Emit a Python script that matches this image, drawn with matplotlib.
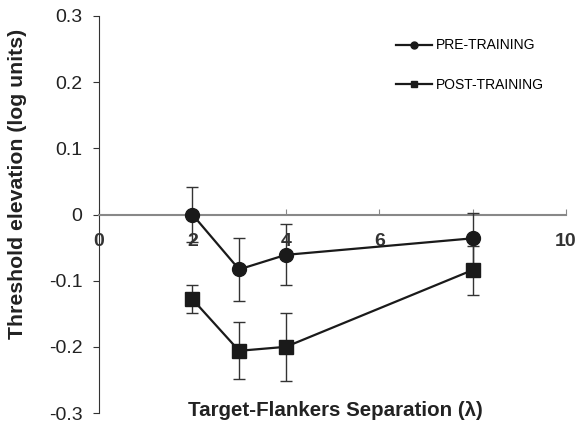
import matplotlib
matplotlib.use("Agg")
import matplotlib.pyplot as plt
from matplotlib.lines import Line2D

plt.rcParams['font.family'] = ['Liberation Sans', 'DejaVu Sans']

separation = [2, 3, 4, 8]
pre_values = [0.0, -0.083, -0.061, -0.036]
pre_err = [0.042, 0.048, 0.046, 0.039]
post_values = [-0.128, -0.206, -0.200, -0.084]
post_err = [0.021, 0.043, 0.051, 0.037]
xticks = [0, 2, 4, 6, 8, 10]
yticks = [-0.3, -0.2, -0.1, 0, 0.1, 0.2, 0.3]
ytick_labels = ['-0.3', '-0.2', '-0.1', '0', '0.1', '0.2', '0.3']

fig = plt.figure(figsize=(5.78, 4.26), dpi=100)
ax = fig.add_axes([99/578, 1 - 413/426, (566-99)/578, (413-16)/426])

ax.errorbar(separation, pre_values, yerr=pre_err, color='#1a1a1a', marker='o',
            markersize=10, lw=1.6, ecolor='#333333', elinewidth=1, capsize=4,
            capthick=1, zorder=3)
ax.errorbar(separation, post_values, yerr=post_err, color='#1a1a1a', marker='s',
            markersize=10, lw=1.6, ecolor='#333333', elinewidth=1, capsize=4,
            capthick=1, zorder=3)

ax.set_xlim(0, 10)
ax.set_ylim(-0.3, 0.3)
ax.spines['top'].set_visible(False)
ax.spines['right'].set_visible(False)
ax.spines['bottom'].set_position(('data', 0))
ax.spines['bottom'].set_color('#888888')
ax.spines['bottom'].set_linewidth(1.5)
ax.spines['left'].set_color('#333333')
ax.spines['left'].set_linewidth(0.8)

ax.set_xticks(xticks)
ax.set_xticklabels([str(v) for v in xticks], fontweight='bold', fontsize=14, color='#333333')
ax.tick_params(axis='x', direction='in', length=4, color='#888888', pad=13)
ax.set_yticks(yticks)
ax.set_yticklabels(ytick_labels, fontsize=14, color='#222222')
ax.tick_params(axis='y', direction='out', length=4, color='#333333', pad=8)

fig.text(18/578, 1 - 184/426, 'Threshold elevation (log units)', rotation=90,
         fontsize=15.3, fontweight='bold', ha='center', va='center', color='#222222')
fig.text(335/578, 1 - 410/426, 'Target-Flankers Separation (λ)',
         fontsize=14.8, fontweight='bold', ha='center', va='center', color='#222222')

handles = [Line2D([0], [0], color='#1a1a1a', marker='o', markersize=5, lw=1.6),
           Line2D([0], [0], color='#1a1a1a', marker='s', markersize=5, lw=1.6)]
ax.legend(handles, ['PRE-TRAINING', 'POST-TRAINING'], loc='upper right',
          bbox_to_anchor=(0.98, 0.975), frameon=False, fontsize=10,
          labelspacing=1.85, handlelength=2.6, handletextpad=0.3)

fig.savefig('out.png', dpi=100)
